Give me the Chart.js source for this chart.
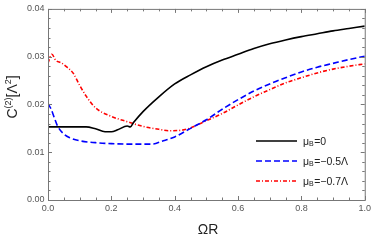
<!DOCTYPE html>
<html>
<head>
<meta charset="utf-8">
<script src="https://cdn.jsdelivr.net/npm/chart.js@4.4.1/dist/chart.umd.min.js"></script>
<style>
  html, body { margin: 0; padding: 0; background: #fff; }
</style>
</head>
<body>
<canvas id="c" width="374" height="240"></canvas>
<script>
/* ---- data ---- */
const xBlack = [0, 0.05, 0.1, 0.12, 0.15, 0.18, 0.2, 0.22, 0.25, 0.26, 0.27, 0.3, 0.35, 0.4, 0.45, 0.5, 0.55, 0.6, 0.65, 0.7, 0.75, 0.8, 0.85, 0.9, 0.95, 1.0];
const yBlack = [0.0153, 0.0153, 0.0153, 0.0153, 0.0149, 0.0143, 0.0143, 0.0147, 0.0155, 0.0153, 0.0162, 0.0185, 0.0216, 0.0243, 0.0262, 0.0279, 0.0293, 0.0305, 0.0317, 0.0327, 0.0335, 0.0342, 0.0348, 0.0354, 0.0359, 0.0364];

const xBlue = [0, 0.01, 0.02, 0.03, 0.05, 0.07, 0.1, 0.15, 0.2, 0.25, 0.3, 0.33, 0.36, 0.4, 0.45, 0.5, 0.55, 0.6, 0.65, 0.7, 0.75, 0.8, 0.85, 0.9, 0.95, 1.0];
const yBlue = [0.0202, 0.0190, 0.0172, 0.0155, 0.0138, 0.0130, 0.0124, 0.0120, 0.0118, 0.0117, 0.0117, 0.0117, 0.0123, 0.0132, 0.0150, 0.0168, 0.0190, 0.0210, 0.0228, 0.0243, 0.0256, 0.0268, 0.0278, 0.0286, 0.0294, 0.0301];

const xRed = [0, 0.012, 0.025, 0.042, 0.06, 0.08, 0.1, 0.12, 0.15, 0.2, 0.25, 0.3, 0.35, 0.38, 0.42, 0.45, 0.5, 0.55, 0.6, 0.65, 0.7, 0.75, 0.8, 0.85, 0.9, 0.95, 1.0];
const yRed = [0.0287, 0.0305, 0.0292, 0.0287, 0.0278, 0.0265, 0.0240, 0.0218, 0.0193, 0.0175, 0.0164, 0.0154, 0.0148, 0.0145, 0.0146, 0.0151, 0.0166, 0.0181, 0.0199, 0.0216, 0.0231, 0.0245, 0.0256, 0.0266, 0.0274, 0.0280, 0.0285];

const legendSub = ['B', 'B', 'B'];
const legendRest = ['=0', '=\u22120.5\u039B', '=\u22120.7\u039B'];

const xMajor = [0, 0.2, 0.4, 0.6, 0.8, 1.0];
const yMajor = [0, 0.01, 0.02, 0.03, 0.04];
const xMinorStep = 0.05;
const yMinorStep = 0.002;

const FONT = '"Liberation Sans", Arial, sans-serif';

function pts(xs, ys) {
    return xs.map((x, i) => ({ x: x, y: ys[i] }));
}

/* ---- frame with inward ticks on all four sides ---- */
const framePlugin = {
    id: 'frame',
    afterDatasetsDraw(chart) {
        const { ctx, chartArea: a, scales: { x, y } } = chart;
        ctx.save();
        ctx.strokeStyle = '#777';
        ctx.lineWidth = 1;
        ctx.strokeRect(a.left + 0.5, a.top + 0.5, a.right - a.left, a.bottom - a.top);

        ctx.beginPath();
        for (let v = 0; v <= 1.0001; v += xMinorStep) {
            const px = Math.round(x.getPixelForValue(v)) + 0.5;
            const major = xMajor.some(m => Math.abs(m - v) < 1e-6);
            const len = major ? 4 : 2.5;
            ctx.moveTo(px, a.bottom); ctx.lineTo(px, a.bottom - len);
            ctx.moveTo(px, a.top); ctx.lineTo(px, a.top + len);
        }
        for (let v = 0; v <= 0.04001; v += yMinorStep) {
            const py = Math.round(y.getPixelForValue(v)) + 0.5;
            const major = yMajor.some(m => Math.abs(m - v) < 1e-6);
            const len = major ? 4 : 2.5;
            ctx.moveTo(a.left, py); ctx.lineTo(a.left + len, py);
            ctx.moveTo(a.right, py); ctx.lineTo(a.right - len, py);
        }
        ctx.stroke();
        ctx.restore();
    }
};

/* ---- axis titles and legend ---- */
const textPlugin = {
    id: 'texts',
    afterDraw(chart) {
        const ctx = chart.ctx;
        const big = '14px ' + FONT;
        const small = '9px ' + FONT;
        ctx.save();
        ctx.fillStyle = '#222';
        ctx.textBaseline = 'alphabetic';

        // x title
        ctx.font = big;
        ctx.textAlign = 'center';
        ctx.fillText('\u03A9R', 208, 234);

        // y title  C^(2)[Λ^2]
        const parts = [['C', big, 0], ['(2)', small, -6], ['[\u039B', big, 0], ['2', small, -6], [']', big, 0]];
        let total = 0;
        parts.forEach(p => { ctx.font = p[1]; total += ctx.measureText(p[0]).width; });
        ctx.translate(17, 97);
        ctx.rotate(-Math.PI / 2);
        ctx.textAlign = 'left';
        let cx = -total / 2;
        parts.forEach(p => {
            ctx.font = p[1];
            ctx.fillText(p[0], cx, p[2]);
            cx += ctx.measureText(p[0]).width;
        });
        ctx.setTransform(1, 0, 0, 1, 0, 0);

        // legend
        chart.data.datasets.forEach((ds, i) => {
            const ry = 141 + 20 * i;
            ctx.beginPath();
            ctx.strokeStyle = ds.borderColor;
            ctx.lineWidth = ds.borderWidth;
            ctx.setLineDash(ds.borderDash || []);
            ctx.moveTo(256, ry);
            ctx.lineTo(297, ry);
            ctx.stroke();
            ctx.setLineDash([]);

            ctx.fillStyle = '#222';
            ctx.textAlign = 'left';
            let tx = 303;
            ctx.font = '10.5px ' + FONT;
            ctx.fillText('\u03BC', tx, ry + 4);
            tx += ctx.measureText('\u03BC').width;
            ctx.font = '7px ' + FONT;
            ctx.fillText(legendSub[i], tx, ry + 5);
            tx += ctx.measureText(legendSub[i]).width + 0.5;
            ctx.font = '10.5px ' + FONT;
            ctx.fillText(legendRest[i], tx, ry + 4);
        });
        ctx.restore();
    }
};

new Chart(document.getElementById('c'), {
    type: 'line',
    data: {
        datasets: [
            {
                label: 'black',
                data: pts(xBlack, yBlack),
                borderColor: '#000',
                borderWidth: 1.6,
                pointRadius: 0,
                cubicInterpolationMode: 'monotone'
            },
            {
                label: 'blue',
                data: pts(xBlue, yBlue),
                borderColor: '#0000ff',
                borderWidth: 1.6,
                borderDash: [6, 3],
                pointRadius: 0,
                cubicInterpolationMode: 'monotone'
            },
            {
                label: 'red',
                data: pts(xRed, yRed),
                borderColor: '#ff0000',
                borderWidth: 1.6,
                borderDash: [4, 2, 1, 2],
                pointRadius: 0,
                cubicInterpolationMode: 'monotone'
            }
        ]
    },
    options: {
        responsive: false,
        devicePixelRatio: 1,
        animation: false,
        layout: { padding: { top: 4, right: 8, left: 0, bottom: 0 } },
        plugins: { legend: { display: false }, tooltip: { enabled: false } },
        scales: {
            x: {
                type: 'linear',
                min: 0, max: 1,
                grid: { display: false, drawTicks: false },
                border: { display: false },
                afterFit(s) { s.height = 40; },
                ticks: {
                    stepSize: 0.2,
                    padding: 3,
                    maxRotation: 0,
                    color: '#555',
                    font: { size: 9, family: FONT },
                    callback: v => v.toFixed(1)
                }
            },
            y: {
                min: 0, max: 0.04,
                grid: { display: false, drawTicks: false },
                border: { display: false },
                afterFit(s) { s.width = 48; },
                ticks: {
                    stepSize: 0.01,
                    padding: 3.5,
                    color: '#555',
                    font: { size: 9, family: FONT },
                    callback: v => v.toFixed(2)
                }
            }
        }
    },
    plugins: [framePlugin, textPlugin]
});
</script>
</body>
</html>
